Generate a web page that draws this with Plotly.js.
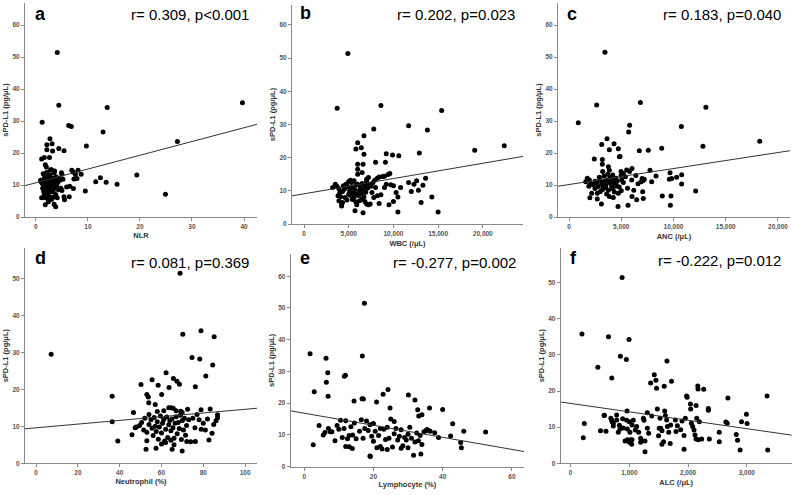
<!DOCTYPE html>
<html><head><meta charset="utf-8">
<script src="https://cdn.plot.ly/plotly-3.0.1.min.js"></script>
<style>html,body{margin:0;padding:0;background:#fff}#chart{width:793px;height:495px}</style>
</head><body><div id="chart"></div>
<script>
// ---------------- DATA ----------------
const panelLetters = ['a','b','c','d','e','f'];
const statLabels = ['r= 0.309, p<0.001','r= 0.202, p=0.023','r= 0.183, p=0.040','r= 0.081, p=0.369','r= -0.277, p=0.002','r= -0.222, p=0.012'];
const xTitles = ['NLR','WBC (/μL)','ANC (/μL)','Neutrophil (%)','Lymphocyte (%)','ALC (/μL)'];
const yTitle = 'sPD-L1 (pg/μL)';
const fitIntercept = [10.7, 9.1, 10.15, 9.6, 16.85, 16.57];
const fitSlope = [0.43, 0.00046, 0.0005, 0.05, -0.19, -0.00233];

const nlr = [4.1,4.4,1.2,6.3,6.8,13.7,12.9,9.7,27.2,39.7,
 19.4,24.9,15.6,13.5,12.4,11.5,9.5,5.4,4.4,2.7,
 2.1,3.1,2.1,3.2,2.6,1.1,1.6,1.8,2.0,8.1,
 7.2,6.9,7.6,8.7,7.9,7.3,4.9,3.6,2.8,6.5,
 5.9,7.2,5.4,6.4,5.5,5.0,
 1.0,1.2,1.3,1.4,1.5,1.5,1.6,1.7,1.7,1.8,
 1.8,1.9,2.0,2.0,2.0,2.1,2.1,2.2,2.2,2.3,
 2.3,2.4,2.4,2.5,2.5,2.6,2.6,2.7,2.7,2.8,
 2.8,2.9,3.0,3.0,3.1,3.2,3.3,3.3,3.4,3.5,
 3.5,3.6,3.7,3.8,3.8,3.9,4.0,4.1,4.2,4.3,
 4.5,4.6,4.8,5.0,5.2,1.8,2.1,1.1,0.9,2.6,
 3.0,1.4,2.4];
const spdA = [51.4,34.9,29.6,28.6,28.3,34.2,26.6,22.2,23.6,35.7,
 13.1,7.1,10.2,10.9,12.3,11.0,8.1,20.7,21.4,24.5,
 22.6,22.9,21.0,20.6,18.6,18.1,18.6,16.3,15.6,14.6,
 14.0,14.6,13.3,13.4,12.0,11.9,13.8,14.4,14.8,9.6,
 9.4,8.9,6.3,6.3,5.4,8.3,
 11.0,10.5,9.0,13.5,8.0,11.8,7.2,10.0,12.5,9.4,
 6.0,11.2,8.6,10.8,12.0,9.8,7.5,11.5,5.8,10.2,
 8.2,9.0,12.8,6.5,10.6,11.8,8.8,13.2,9.5,6.0,
 10.0,7.8,11.0,5.5,9.2,12.2,8.0,6.2,10.4,13.8,
 4.0,9.0,11.6,7.0,3.2,12.6,9.8,6.0,10.8,8.5,
 12.0,11.5,9.0,13.4,11.8,3.8,14.0,6.0,11.5,6.0,
 14.8,9.0,4.8];

const wbc = [4900,3700,8600,15400,11700,13800,7800,6700,19100,22400,
 12900,9200,9900,10600,6000,6400,5800,6700,8000,9100,
 6000,6600,6000,6500,6000,
 11700,12300,12600,12000,12800,13300,13600,14300,13100,10500,
 15000,9500,10000,10500,10300,10800,10000,9400,9600,9000,
 8800,8400,8200,7900,7200,7000,9200,9700,9000,8600,
 8200,7800,7600,7400,8400,7000,7200,6600,5700,4200,
 4300,5900,
 3200,3500,3700,3900,4000,3800,4100,4300,4500,4700,
 4900,5000,5100,5200,5300,5400,5500,5600,5700,5800,
 5900,6000,6100,6200,6300,6400,6500,6600,6700,6800,
 6900,7000,7100,7300,7500,4600,4800,5000,5200,5600,
 6200,6500,6800,4400,5400,5800,7700,8000,3900,4200];
const spdB = [51.4,34.9,35.7,34.2,29.6,28.3,28.6,26.6,22.2,23.6,
 21.4,21.2,20.8,20.6,24.5,23.0,22.6,21.0,18.6,18.6,
 18.0,18.0,16.5,15.5,15.0,
 12.5,12.0,13.0,9.8,10.2,11.7,13.8,8.1,6.5,3.6,
 3.6,5.8,6.8,8.1,9.5,11.0,11.5,14.9,15.2,14.4,
 14.3,14.2,13.8,13.2,14.0,13.5,12.0,11.8,11.0,8.8,
 8.5,8.0,9.5,6.0,6.2,6.0,5.8,3.4,4.0,5.4,
 6.5,5.8,
 11.0,12.0,11.3,10.6,9.5,8.5,8.2,9.8,10.5,12.0,
 11.2,9.0,10.0,8.6,12.5,11.0,9.4,8.0,10.4,11.8,
 9.0,12.0,8.6,10.0,11.0,9.3,12.2,10.5,8.2,11.6,
 9.6,12.8,10.8,12.0,11.4,8.0,7.2,12.8,13.2,13.0,
 7.0,7.5,6.8,11.5,7.4,6.6,12.4,11.0,7.0,6.0];

const anc = [3440,2650,6830,13100,890,10750,5800,5710,18250,12820,
 8870,7590,6730,3640,3130,4310,3860,4720,4820,4880,
 2420,3190,3190,3770,3860,
 6030,5520,4980,5200,4980,7750,9670,10780,9830,10300,
 9600,10780,8330,7910,7000,7100,6900,7200,12120,9760,
 8930,9700,5650,4690,3100,3860,4240,7050,7110,6030,
 6480,
 1750,1950,2070,2330,2490,2650,2810,2970,3130,3220,
 3350,3540,3670,3770,3930,4080,4180,4240,4340,4500,
 4560,4720,5040,2170,2710,3600,3220,1600,2000,2700,
 3500,3900,4100,4400,4800,5200,5400,5600,5800,6000,
 6200,6400,6600,2900,3300,3700,4600,5000,2500,1900,
 4200,3400,3000];
const spdC = [51.5,35.0,35.8,34.3,29.5,28.3,28.7,26.6,23.7,22.1,
 21.5,20.9,20.7,24.5,22.7,22.9,21.0,21.3,18.8,18.9,
 18.1,18.0,16.5,15.7,14.6,
 15.2,14.7,14.2,13.6,13.0,14.6,13.8,13.2,12.0,12.4,
 11.8,10.3,12.8,11.0,12.0,11.4,11.0,11.8,8.1,6.6,
 6.6,3.7,3.7,3.3,4.1,6.4,6.1,7.9,5.8,6.4,
 5.4,
 12.1,11.6,10.5,10.0,8.9,10.7,9.5,11.6,10.5,8.6,
 12.8,10.0,11.6,8.4,12.4,9.5,13.1,11.4,7.8,12.1,
 9.7,7.4,11.6,7.4,7.4,7.2,14.2,11.0,6.0,5.6,
 9.2,10.8,11.0,10.4,9.4,10.8,12.6,9.0,14.2,11.6,
 8.4,13.0,10.4,12.4,9.6,13.4,11.2,8.2,11.2,9.6,
 8.8,11.2,8.0];

const neut = [68.9,7.2,36.4,36.4,39.1,70.2,78.9,85.2,74.6,78.3,
 84.5,81.2,76.2,62.2,55.5,50.2,58.4,65.7,67.4,68.6,
 63.6,60.1,53.0,53.7,53.9,57.0,46.6,63.5,64.6,65.6,
 61.1,69.2,69.9,78.9,83.3,86.8,86.8,86.1,85.0,84.2,
 82.7,72.1,76.2,52.6,57.4,65.1,69.9,45.9,47.4,53.0,
 50.5,51.5,52.0,53.0,54.0,55.0,55.5,56.0,56.5,57.0,
 57.5,58.0,58.5,59.0,59.5,60.0,60.5,61.0,61.5,62.0,
 62.5,63.0,63.5,64.0,64.5,65.0,65.5,66.0,66.5,67.0,
 67.5,68.0,68.5,69.0,69.5,70.0,70.5,71.0,71.5,72.0,
 73.0,74.0,75.0,76.0,77.0,78.0,79.0,80.0,81.0,82.0,
 60.0,62.0,64.5,58.0,54.0,67.0,72.5,48.0,49.5,66.0];
const spdD = [51.4,29.5,18.1,11.2,6.0,34.9,35.8,34.2,28.6,28.2,
 26.6,23.6,20.7,24.5,22.6,21.3,21.1,22.9,22.2,21.4,
 20.5,18.6,18.6,17.9,16.4,15.9,13.7,15.0,15.0,14.9,
 14.2,14.1,13.7,14.5,14.7,13.1,12.3,11.5,10.5,8.1,
 6.3,5.9,5.9,3.8,4.1,3.8,3.3,7.7,9.6,6.1,
 11.0,9.0,12.2,8.4,10.5,11.8,9.5,7.5,12.4,10.0,
 8.6,11.2,6.5,9.8,12.8,8.2,10.8,11.8,6.0,9.2,
 12.5,7.0,10.4,11.6,8.8,12.0,9.6,6.8,10.8,12.6,
 8.0,11.0,9.4,13.0,6.4,11.6,9.0,12.2,7.6,10.2,
 11.8,5.8,12.2,9.6,13.2,11.8,9.2,10.8,9.0,12.0,
 5.2,5.6,6.2,14.0,13.2,14.2,14.6,9.8,10.2,5.0];

const lym = [17.4,1.7,6.3,16.8,6.8,6.4,6.9,11.6,11.9,2.9,
 14.4,16.7,17.1,22.8,24.2,20.9,30.1,32.0,24.8,32.8,
 33.1,34.0,36.2,40.0,42.9,46.1,52.4,42.3,45.2,45.4,
 2.6,4.3,8.9,13.0,13.9,19.0,19.1,31.6,33.7,38.8,
 37.7,36.4,35.9,35.5,35.1,34.6,
 5.5,6.0,7.0,7.5,9.5,10.0,10.5,11.0,11.5,12.0,
 12.5,13.0,13.5,14.0,14.5,15.0,16.0,17.0,17.5,18.0,
 18.5,19.0,19.5,20.0,20.5,21.0,21.5,22.0,22.5,23.0,
 23.5,24.0,24.5,25.0,25.5,26.0,26.5,27.0,27.5,28.0,
 28.5,29.0,29.5,30.0,30.5,31.0,32.0,32.5,33.0,33.5,
 34.0,24.0,26.0,22.0,28.0,20.0,16.5,8.0,12.0,30.0];
const spdE = [51.5,35.6,34.2,34.9,29.6,26.6,22.2,28.5,28.8,23.6,
 20.7,21.4,21.3,22.8,24.3,20.4,22.6,21.0,18.5,17.9,
 16.0,16.4,18.5,18.0,13.5,11.2,10.9,9.7,7.6,6.0,
 6.9,13.0,8.2,6.3,5.7,3.4,3.2,3.6,4.0,9.2,
 10.7,11.2,11.4,11.7,11.3,11.0,
 10.0,10.8,12.0,11.0,13.0,11.8,14.6,9.2,12.0,14.5,
 8.8,9.8,12.6,10.0,13.8,8.8,11.2,9.0,12.0,14.4,
 11.4,13.2,9.6,8.0,11.2,6.0,9.8,12.0,5.6,11.8,
 8.6,12.4,9.0,15.0,6.2,10.4,12.0,8.4,9.6,11.6,
 6.6,9.2,8.4,10.2,12.4,9.0,7.8,10.6,8.2,9.8,
 7.0,5.4,14.2,6.4,5.8,13.6,14.8,11.0,6.4,6.0];

const alc = [876,192,644,994,847,949,1640,463,700,1424,
 1452,1362,1463,1593,1718,2678,3345,2169,2165,2266,
 1983,1975,2040,2136,2345,2345,2994,2910,3005,2644,
 2667,2820,2842,2887,3356,2531,2531,2362,2232,1932,
 1266,1695,215,232,508,960,571,684,706,785,
 830,926,1023,1040,1192,1266,1554,1582,1497,1508,
 573,601,698,726,726,783,811,840,885,897,
 954,999,1045,1067,1101,1124,1158,965,1010,1045,
 965,999,1192,1209,1249,1238,1306,1328,1306,1380,
 1476,1522,1533,1556,1601,1613,1635,1647,1670,1703,
 1783,1794,1817,1874,1897,1931,1953,2044,2056,2078,
 2101,2118,2135,2175,2146,2192];
const spdF = [51.4,35.8,35.0,34.3,29.6,28.7,28.3,26.6,23.6,24.5,
 23.0,22.2,20.8,21.3,22.7,18.1,18.6,20.6,21.4,20.5,
 18.3,18.6,16.4,16.0,15.2,14.7,13.6,11.5,11.0,11.4,
 11.1,8.0,6.4,3.7,3.7,8.6,6.0,6.7,6.7,3.9,
 3.2,5.5,7.1,11.0,9.0,14.5,13.2,12.5,11.5,12.0,
 10.5,6.2,6.5,5.3,6.9,6.2,5.3,6.0,7.6,9.7,
 13.3,8.9,12.0,10.3,11.1,13.4,8.6,9.5,12.3,9.8,
 11.9,11.5,10.6,11.9,9.2,10.2,8.6,9.5,8.6,6.5,
 6.5,5.8,5.8,6.2,11.9,12.5,9.7,8.3,14.0,13.1,
 15.0,12.5,9.7,9.0,14.5,13.2,12.0,10.2,8.6,10.6,
 12.0,8.8,10.4,9.3,11.7,7.7,12.5,15.0,11.1,10.2,
 9.2,7.8,6.7,6.5,12.5,11.5];

const xSeries = [nlr, wbc, anc, neut, lym, alc];
const ySeries = [spdA, spdB, spdC, spdD, spdE, spdF];

// ---------------- LAYOUT (pixel boxes) ----------------
const W = 793, H = 495;
const boxes = [
  {l:25,  r:257,   t:3,   b:217,   xr:[-2.1,42.5],    yr:[0,66.9], xd:10,   yd:10, fmt:''},
  {l:292, r:523,   t:5,   b:224,   xr:[-1350,24500],  yr:[0,66.0], xd:5000, yd:10, fmt:','},
  {l:558, r:790,   t:3,   b:217,   xr:[-1053,21150],  yr:[0,66.9], xd:5000, yd:10, fmt:','},
  {l:25,  r:257,   t:248, b:463.3, xr:[-5.3,105.7],   yr:[0,58.2], xd:20,   yd:10, fmt:''},
  {l:290.7,r:524,  t:254, b:466.7, xr:[-3.9,63.5],    yr:[0,67.0], xd:20,   yd:10, fmt:''},
  {l:560.7,r:791.7,t:248, b:463.3, xr:[-170,3765],    yr:[0,59.6], xd:1000, yd:10, fmt:','}
];
const letterPos = [[33,14],[298,13],[565,14],[33,258],[298,258],[568,258]];
const statPos = [[251,15],[517,15],[783,15],[251,262],[518,262],[783,260]];

const FONT = 'Liberation Sans, Arial, sans-serif';
const traces = [];
const layout = {
  width: W, height: H, margin: {l:0,r:0,t:0,b:0},
  paper_bgcolor: '#fff', plot_bgcolor: '#fff', showlegend: false,
  font: {family: FONT}, annotations: []
};

boxes.forEach((bx, i) => {
  const sfx = i === 0 ? '' : String(i + 1);
  const xa = 'x' + sfx, ya = 'y' + sfx;
  traces.push({
    type: 'scatter', mode: 'markers', x: xSeries[i], y: ySeries[i],
    xaxis: xa, yaxis: ya, marker: {color: '#000', size: 5}, hoverinfo: 'x+y'
  });
  traces.push({
    type: 'scatter', mode: 'lines',
    x: [bx.xr[0], bx.xr[1]],
    y: [fitIntercept[i] + fitSlope[i] * bx.xr[0], fitIntercept[i] + fitSlope[i] * bx.xr[1]],
    xaxis: xa, yaxis: ya, line: {color: '#333', width: 1}, hoverinfo: 'skip'
  });
  const common = {
    showline: true, linecolor: '#888', linewidth: 1, ticks: 'outside', ticklen: 3,
    tickwidth: 1, tickcolor: '#888', showgrid: false, zeroline: false,
    tickfont: {size: 6.5, color: '#555', family: FONT, weight: 'bold'}, tick0: 0
  };
  layout['xaxis' + sfx] = Object.assign({}, common, {
    domain: [bx.l / W, bx.r / W], range: bx.xr, anchor: ya, dtick: bx.xd,
    tickformat: bx.fmt,
    title: {text: xTitles[i], font: {size: 7.5, color: '#333', family: FONT, weight: 'bold'}, standoff: 3}
  });
  layout['yaxis' + sfx] = Object.assign({}, common, {
    domain: [1 - bx.b / H, 1 - bx.t / H], range: bx.yr, anchor: xa, dtick: bx.yd,
    title: {text: yTitle, font: {size: 7.5, color: '#333', family: FONT, weight: 'bold'}, standoff: 2}
  });
  layout.annotations.push({
    xref: 'paper', yref: 'paper', x: letterPos[i][0] / W, y: 1 - letterPos[i][1] / H,
    xanchor: 'left', yanchor: 'middle', showarrow: false, text: '<b>' + panelLetters[i] + '</b>',
    font: {size: 18, color: '#000', family: FONT}
  });
  layout.annotations.push({
    xref: 'paper', yref: 'paper', x: statPos[i][0] / W, y: 1 - statPos[i][1] / H,
    xanchor: 'right', yanchor: 'middle', showarrow: false, text: statLabels[i],
    font: {size: 15, color: '#000', family: FONT}
  });
});

Plotly.newPlot('chart', traces, layout, {displayModeBar: false, staticPlot: true});
</script>
</body></html>
